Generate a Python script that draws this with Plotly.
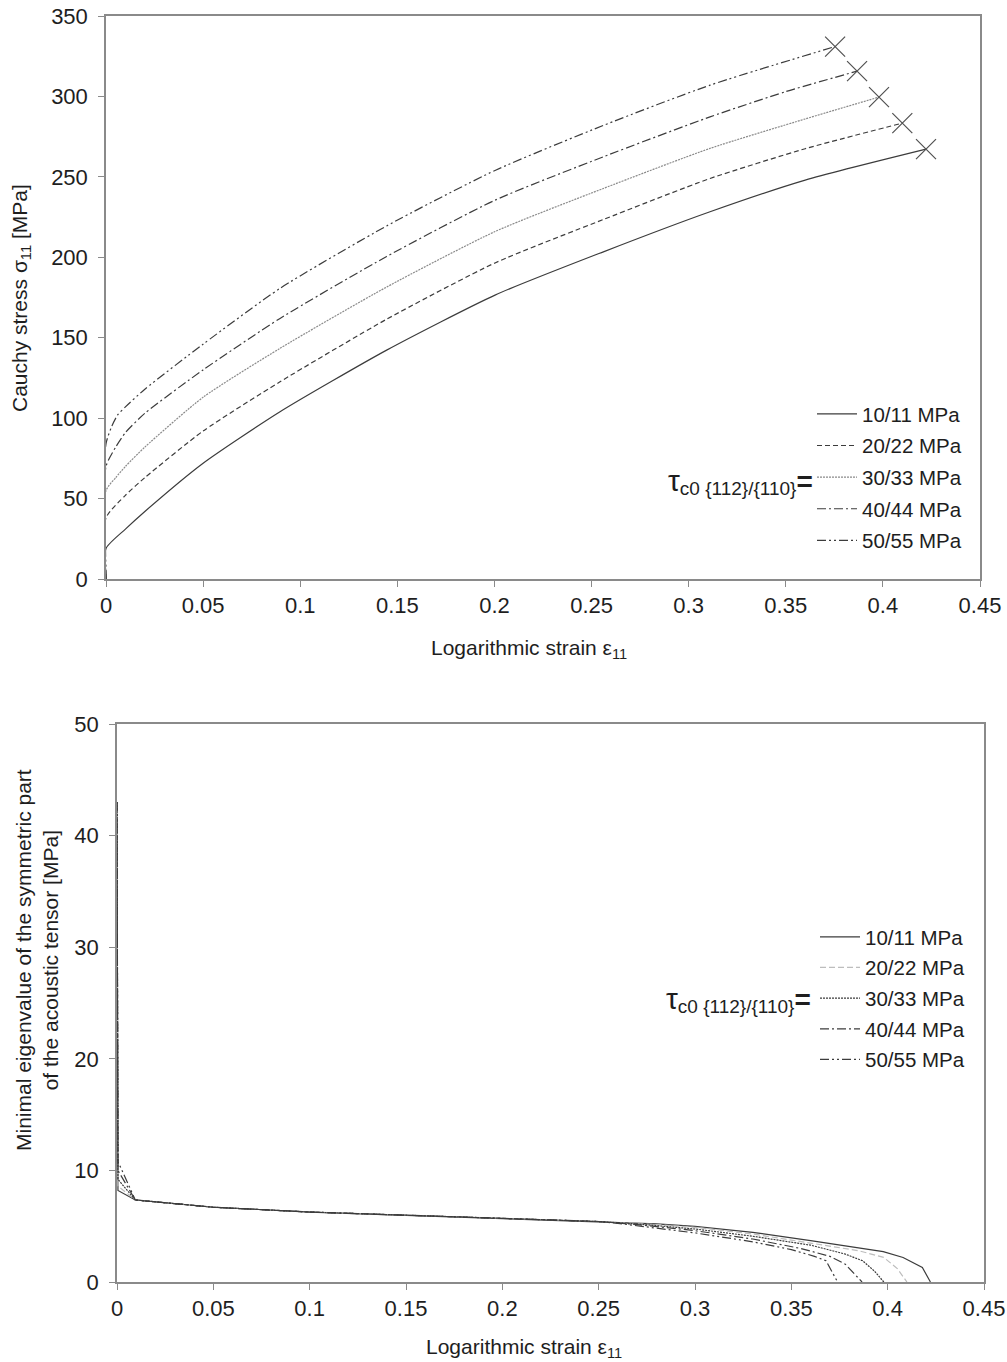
import plotly.graph_objects as go

W, H = 1007, 1362

labels = ["10/11 MPa", "20/22 MPa", "30/33 MPa", "40/44 MPa", "50/55 MPa"]

# ---------- top chart: Cauchy stress vs logarithmic strain ----------
top_eps_10 = [0, 0, 0.01, 0.02, 0.05, 0.0896, 0.1445, 0.2003, 0.2561, 0.311, 0.36, 0.4222]
top_sig_10 = [0, 19, 31, 42, 72, 104, 142.3, 176.5, 203.4, 228.3, 248, 267.2]

top_eps_20 = [0, 0, 0.01, 0.02, 0.05, 0.0896, 0.1445, 0.2003, 0.2561, 0.311, 0.36, 0.41]
top_sig_20 = [0, 38, 52, 63, 92, 122.6, 161.5, 196.5, 223.5, 249, 267.5, 283.4]

top_eps_30 = [0, 0, 0.005, 0.01, 0.02, 0.05, 0.0896, 0.1445, 0.2003, 0.2561, 0.311, 0.36, 0.398]
top_sig_30 = [0, 55, 63, 70, 82, 113, 143.4, 181.5, 216, 242.8, 267.7, 286, 299.6]

top_eps_40 = [0, 0, 0.005, 0.01, 0.02, 0.05, 0.0896, 0.1445, 0.2003, 0.2561, 0.311, 0.35, 0.3867]
top_sig_40 = [0, 70, 82, 91, 103, 130, 162, 200.5, 235.5, 262.5, 287.3, 303, 315.7]

top_eps_50 = [0, 0, 0.003, 0.006, 0.01, 0.02, 0.05, 0.0896, 0.1445, 0.2003, 0.2561, 0.311, 0.3754]
top_sig_50 = [0, 84, 95, 102, 107, 118, 146, 180.7, 219.5, 254, 282, 307, 331]

# ---------- bottom chart: minimal eigenvalue vs logarithmic strain ----------
bot_eps_10 = [0, 0.0005, 0.0095, 0.05, 0.1, 0.15, 0.2, 0.25, 0.28, 0.3, 0.33, 0.36, 0.3977, 0.408, 0.418, 0.4222]
bot_val_10 = [43, 8.2, 7.35, 6.7, 6.27, 5.98, 5.72, 5.42, 5.2, 4.98, 4.45, 3.7, 2.72, 2.2, 1.3, 0]

bot_eps_20 = [0, 0.0005, 0.0095, 0.05, 0.1, 0.15, 0.2, 0.25, 0.28, 0.3, 0.33, 0.36, 0.385, 0.398, 0.405, 0.41]
bot_val_20 = [43, 8.6, 7.35, 6.7, 6.27, 5.98, 5.72, 5.42, 5.15, 4.9, 4.3, 3.5, 2.8, 2.2, 1.2, 0]

bot_eps_30 = [0, 0.0005, 0.0095, 0.05, 0.1, 0.15, 0.2, 0.25, 0.27, 0.3, 0.33, 0.36, 0.378, 0.387, 0.393, 0.398]
bot_val_30 = [43, 9.2, 7.35, 6.7, 6.27, 5.98, 5.72, 5.42, 5.2, 4.75, 4.1, 3.3, 2.5, 1.9, 1.0, 0]

bot_eps_40 = [0, 0.0005, 0.0095, 0.05, 0.1, 0.15, 0.2, 0.25, 0.27, 0.3, 0.33, 0.355, 0.37, 0.378, 0.3867]
bot_val_40 = [43, 10.0, 7.35, 6.7, 6.27, 5.98, 5.72, 5.42, 5.15, 4.6, 3.85, 3.0, 2.3, 1.6, 0]

bot_eps_50 = [0, 0.0005, 0.0095, 0.05, 0.1, 0.15, 0.2, 0.25, 0.26, 0.3, 0.33, 0.35, 0.362, 0.368, 0.374]
bot_val_50 = [43, 10.8, 7.35, 6.7, 6.27, 5.98, 5.72, 5.42, 5.25, 4.4, 3.6, 2.9, 2.3, 1.9, 0]

top_x = [top_eps_10, top_eps_20, top_eps_30, top_eps_40, top_eps_50]
top_y = [top_sig_10, top_sig_20, top_sig_30, top_sig_40, top_sig_50]
bot_x = [bot_eps_10, bot_eps_20, bot_eps_30, bot_eps_40, bot_eps_50]
bot_y = [bot_val_10, bot_val_20, bot_val_30, bot_val_40, bot_val_50]

top_styles = [
    dict(color="#3c3c3c", dash="solid", width=1.2, shape="spline", smoothing=0.6),
    dict(color="#3c3c3c", dash="5px,3px", width=1.2, shape="spline", smoothing=0.6),
    dict(color="#8a8a8a", dash="2px,1px", width=1.2, shape="spline", smoothing=0.6),
    dict(color="#3c3c3c", dash="9px,3px,2px,3px", width=1.2, shape="spline", smoothing=0.6),
    dict(color="#3c3c3c", dash="9px,3px,2px,3px,2px,3px", width=1.2, shape="spline", smoothing=0.6),
]
bot_styles = [
    dict(color="#3c3c3c", dash="solid", width=1.2),
    dict(color="#bdbdbd", dash="6px,3px", width=1.2),
    dict(color="#3c3c3c", dash="2px,1px", width=1.2),
    dict(color="#3c3c3c", dash="9px,3px,2px,3px", width=1.2),
    dict(color="#3c3c3c", dash="9px,3px,2px,3px,2px,3px", width=1.2),
]

FONT = "Liberation Sans, Arial, sans-serif"
TXT = "#1e1e1e"
AX = "#8a8a8a"

fig = go.Figure()

for i in range(5):
    fig.add_trace(go.Scatter(
        x=top_x[i], y=top_y[i], mode="lines", name=labels[i],
        line=top_styles[i], xaxis="x", yaxis="y",
        legend="legend", legendgroup="t%d" % i))

# end-of-curve failure markers
fig.add_trace(go.Scatter(
    x=[c[-1] for c in top_x], y=[c[-1] for c in top_y], mode="markers",
    marker=dict(symbol="x-thin-open", size=20, color="#505050",
                line=dict(color="#505050", width=1.2)),
    showlegend=False, xaxis="x", yaxis="y"))

for i in range(5):
    fig.add_trace(go.Scatter(
        x=bot_x[i], y=bot_y[i], mode="lines", name=labels[i],
        line=bot_styles[i], xaxis="x2", yaxis="y2",
        legend="legend2", legendgroup="b%d" % i))

axis_common = dict(
    showline=True, linecolor=AX, linewidth=1.5, mirror=True,
    ticks="outside", ticklen=6, tickcolor=AX, tickwidth=1.2,
    showgrid=False, zeroline=False, automargin=False,
    tickfont=dict(family=FONT, size=22, color=TXT),
)

legend_common = dict(
    bgcolor="rgba(0,0,0,0)", borderwidth=0,
    font=dict(family=FONT, size=20.5, color=TXT),
    xanchor="left", yanchor="top", itemwidth=40,
)

fig.update_layout(
    width=W, height=H,
    margin=dict(l=0, r=0, t=0, b=0, autoexpand=False),
    paper_bgcolor="white", plot_bgcolor="white",
    font=dict(family=FONT, size=20, color=TXT),
    xaxis=dict(domain=[106 / W, 980 / W], anchor="y", range=[0, 0.45],
               tick0=0, dtick=0.05, **axis_common),
    yaxis=dict(domain=[1 - 579 / H, 1 - 16 / H], anchor="x", range=[0, 350],
               tick0=0, dtick=50, ticklabelstandoff=6, **axis_common),
    xaxis2=dict(domain=[117 / W, 984 / W], anchor="y2", range=[0, 0.45],
                tick0=0, dtick=0.05, **axis_common),
    yaxis2=dict(domain=[1 - 1282 / H, 1 - 724 / H], anchor="x2", range=[0, 50],
                tick0=0, dtick=10, ticklabelstandoff=6, **axis_common),
    legend=dict(x=812 / W, y=1 - 394 / H, tracegroupgap=2, **legend_common),
    legend2=dict(x=815 / W, y=1 - 917 / H, tracegroupgap=1, **legend_common),
    showlegend=True,
)

ann_font = dict(family=FONT, size=21, color=TXT)
tau_text = ("<span style='font-size:30px'>τ</span>"
            "<sub><span style='font-size:19px'>c0 {112}/{110}</span></sub>"
            "<span style='font-size:28px'><b>=</b></span>")
annotations = [
    dict(text="Logarithmic strain ε<sub>11</sub>", x=529 / W, y=1 - 649 / H,
         xanchor="center", yanchor="middle"),
    dict(text="Logarithmic strain ε<sub>11</sub>", x=524 / W, y=1 - 1348 / H,
         xanchor="center", yanchor="middle"),
    dict(text="Cauchy stress σ<sub>11</sub> [MPa]", x=21 / W, y=1 - 298 / H,
         xanchor="center", yanchor="middle", textangle=-90),
    dict(text="Minimal eigenvalue of the symmetric part<br>of the acoustic tensor [MPa]",
         x=37 / W, y=1 - 960 / H, xanchor="center", yanchor="middle", textangle=-90),
    dict(text=tau_text, x=815 / W, y=1 - 482 / H, xanchor="right", yanchor="middle"),
    dict(text=tau_text, x=813 / W, y=1 - 999 / H, xanchor="right", yanchor="middle"),
]
for a in annotations:
    a.update(xref="paper", yref="paper", showarrow=False, font=ann_font)
fig.update_layout(annotations=annotations)

fig.write_html("out.html",
               config={"displayModeBar": False},
               post_script="document.body.style.margin='0';"
                           "document.body.style.padding='0';")
